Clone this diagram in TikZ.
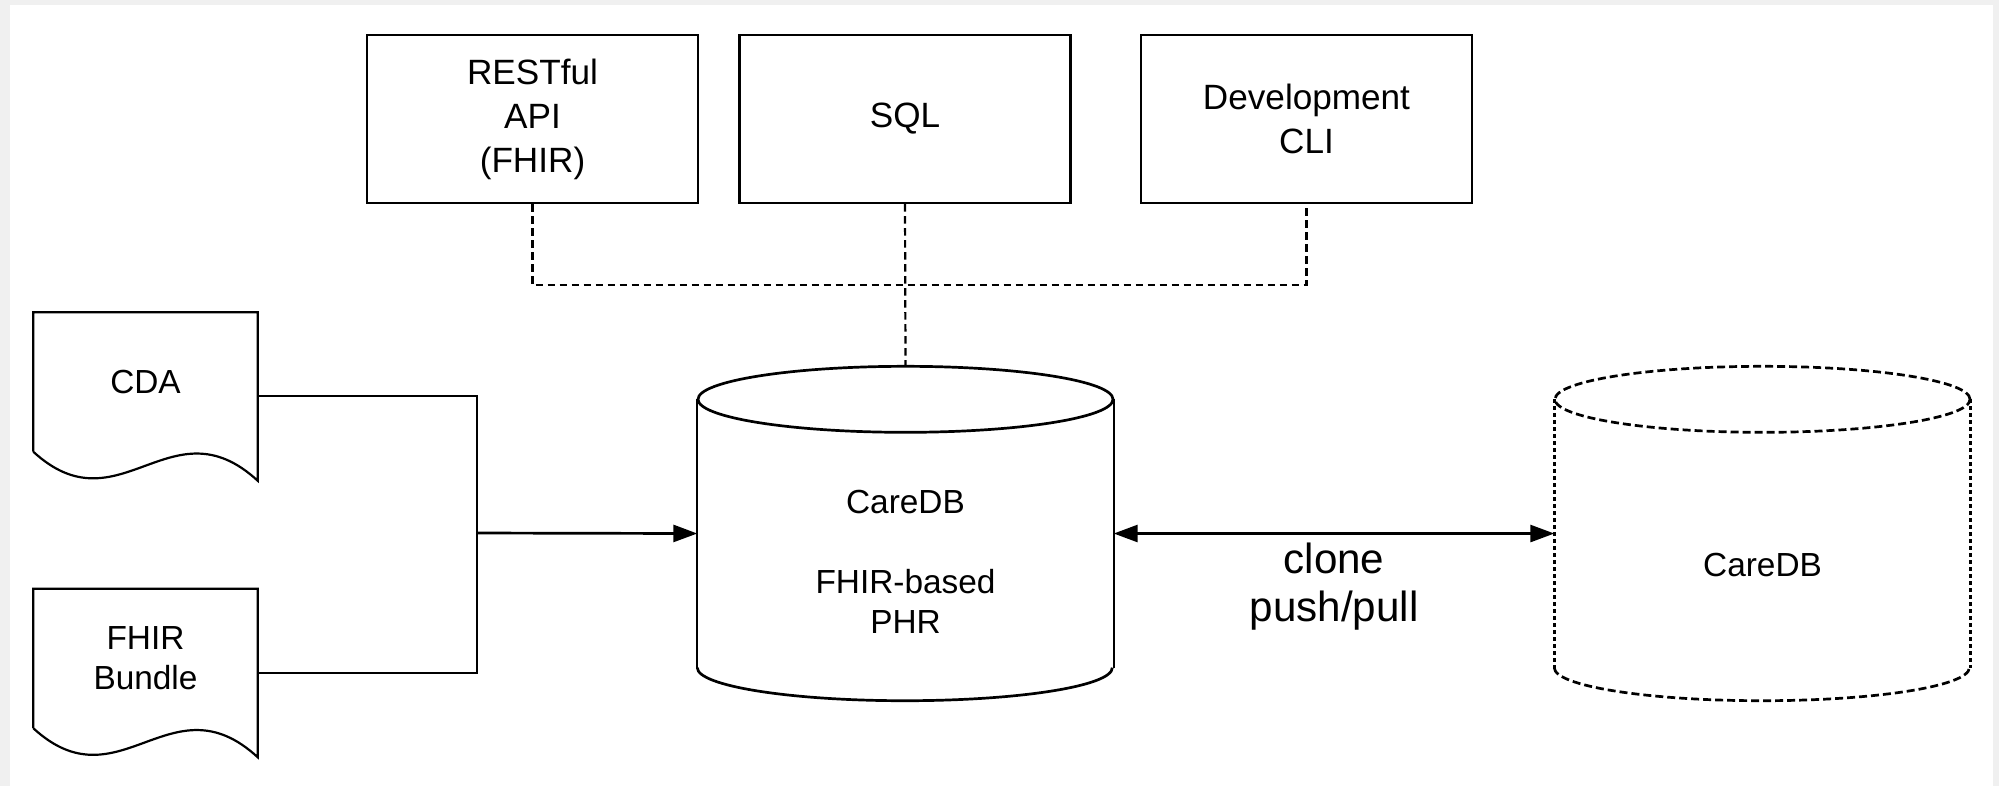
\documentclass[tikz,border=0pt]{standalone}
\usepackage{fontspec}
\setmainfont{Liberation Sans}
\usetikzlibrary{arrows.meta}

% outline of a document shape round node #1
\newcommand{\docoutline}[1]{%
  \draw[line width=0.22mm] (#1.south west) -- (#1.north west) -- (#1.north east)
    -- ([yshift=-2.9mm]#1.south east)
    .. controls ([xshift=-8.7mm,yshift=5.1mm]#1.south east)
    and ([xshift=8.6mm,yshift=-7.9mm]#1.south west) .. (#1.south west);}
% outline of a database drum round node #1
\newcommand{\dboutline}[3]{%
  \draw[#2] ([yshift=-3.3mm]#1.north west) -- ([yshift=3.3mm]#1.south west)
    ([yshift=-3.3mm]#1.north east) -- ([yshift=3.3mm]#1.south east);
  \draw[#3] ([yshift=-3.3mm]#1.north) ellipse [x radius=20.75mm, y radius=3.3mm]
    ([yshift=3.3mm]#1.south west) arc [start angle=180, end angle=360, x radius=20.75mm, y radius=3.3mm];}

\begin{document}
\begin{tikzpicture}[x=0.1mm,y=-0.1mm,
    every node/.style={align=center,font=\fontsize{9.5}{11.4}\selectfont},
    box/.style={draw,line width=0.22mm,minimum width=33.1mm,minimum height=16.8mm,font=\fontsize{10}{12.5}\selectfont},
    doc/.style={minimum width=22.3mm,minimum height=13.8mm},
    db/.style={minimum width=41.5mm,minimum height=33.3mm},
    link/.style={line width=0.22mm,dash pattern=on 0.75mm off 0.45mm},
    >={Triangle[length=2.4mm,width=1.7mm]}]
  \useasboundingbox (0,0) rectangle (1999,786);
  \fill[black!6] (0,0) rectangle (1999,786);
  \fill[white] (10,5) rectangle (1993,786);
  %
  \node[box] (rest) at (532.5,119) {RESTful\\API\\(FHIR)};
  \node[box] (sql) at (905,119) {SQL};
  \node[box] (dev) at (1306.5,119) {Development\\CLI};
  %
  \node[doc] (cda) at (145.5,382) {CDA};
  \node[doc] (fhir) at (145.5,658.5) {FHIR\\Bundle};
  \docoutline{cda}
  \docoutline{fhir}
  %
  \node[db] (phr) at (905.5,533.5) {};
  \node (phrtext) at (905.5,562) {CareDB\\[11.4pt]FHIR-based\\PHR};
  \node[db] (clone) at (1762.5,533.5) {};
  \node (clonetext) at (1762.5,565) {CareDB};
  \dboutline{phr}{line width=0.22mm}{line width=0.27mm}
  \dboutline{clone}{line width=0.25mm,dash pattern=on 0.4mm off 0.3mm}{line width=0.27mm,dash pattern=on 0.8mm off 0.4mm}
  %
  \coordinate (hub) at (905,285);
  \coordinate (join) at (477,533);
  \draw[link] (rest.south) |- (hub) -| (dev.south);
  \draw[link] (sql.south) -- (phr.north);
  \draw[line width=0.22mm] ([yshift=-1.4mm]cda.east) -| (join) |- ([yshift=-1.45mm]fhir.east);
  \draw[->,line width=0.27mm] (join) -- (phr.west);
  \draw[<->,line width=0.27mm] (phr.east) -- (clone.west)
    node[midway,yshift=-5.3mm,font=\fontsize{12}{13.7}\selectfont] (sync) {clone\\push/pull};
\end{tikzpicture}
\end{document}
